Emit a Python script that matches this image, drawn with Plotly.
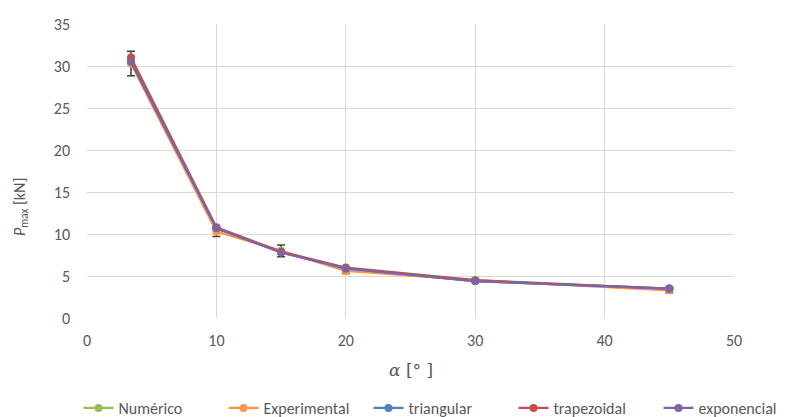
import plotly.graph_objects as go

alpha = [3.4, 10, 15, 20, 30, 45]
numerico = [30.6, 10.6, 7.9, 5.8, 4.4, 3.4]
experimental = [30.3, 10.3, 8.0, 5.6, 4.5, 3.3]
exp_err = [1.45, 0.6, 0.7, 0.3, 0.2, 0.3]
triangular = [30.6, 10.7, 7.8, 5.9, 4.4, 3.5]
trapezoidal = [31.0, 10.8, 7.9, 6.0, 4.5, 3.5]
exponencial = [30.5, 10.7, 7.8, 5.9, 4.4, 3.5]

series = [
    ("Numérico", numerico, "#9BBB59", None),
    ("Experimental", experimental, "#F79646", exp_err),
    ("triangular", triangular, "#4F81BD", None),
    ("trapezoidal", trapezoidal, "#C0504D", None),
    ("exponencial", exponencial, "#8064A2", None),
]

FONT = "Carlito, Lato, Open Sans, sans-serif"
TXT = "#595959"
W, H = 792, 417

fig = go.Figure()
for name, vals, col, err in series:
    kw = {}
    if err is not None:
        kw["error_y"] = dict(type="data", array=err, visible=True, color="#404040", thickness=1.5, width=4)
    fig.add_trace(go.Scatter(
        x=alpha, y=vals, name=name, mode="lines+markers",
        line=dict(color=col, width=2.25),
        marker=dict(color=col, size=8),
        **kw,
    ))

fig.update_layout(
    width=W, height=H,
    margin=dict(l=0, r=0, t=0, b=0, autoexpand=False),
    paper_bgcolor="white", plot_bgcolor="white",
    font=dict(family=FONT, size=16, color=TXT),
    showlegend=True,
    legend=dict(orientation="h", x=0.5 + 45 / W, xanchor="center",
                y=9 / H, yanchor="middle",
                entrywidth=100, entrywidthmode="pixels",
                font=dict(size=16, color=TXT), traceorder="normal"),
    xaxis=dict(domain=[87 / W, 734 / W], range=[0, 50], dtick=10, showgrid=True,
               gridcolor="#D9D9D9", gridwidth=1,
               zeroline=False, showline=False, ticks="", automargin=False,
               ticklabelstandoff=11, tickfont=dict(size=16, color=TXT)),
    yaxis=dict(domain=[1 - 318 / H, 1 - 24 / H], range=[0, 35], dtick=5, showgrid=True,
               gridcolor="#D9D9D9", gridwidth=1,
               zeroline=False, showline=False, ticks="", automargin=False,
               ticklabelstandoff=16, tickfont=dict(size=16, color=TXT)),
    annotations=[
        dict(text="<i>α</i> [° ]", xref="paper", yref="paper", x=410.5 / W, y=1 - 370 / H,
             xanchor="center", yanchor="middle", showarrow=False,
             font=dict(size=17, color=TXT, family="DejaVu Serif, serif")),
        dict(text="<i>P</i><sub>max</sub> [kN]", xref="paper", yref="paper",
             x=20 / W, y=1 - 207 / H, textangle=-90,
             xanchor="center", yanchor="middle", showarrow=False,
             font=dict(size=16, color=TXT)),
    ],
)

fig.write_html("out.html", config={"displayModeBar": False},
               post_script="document.body.style.margin='0';document.body.style.overflow='hidden';")
